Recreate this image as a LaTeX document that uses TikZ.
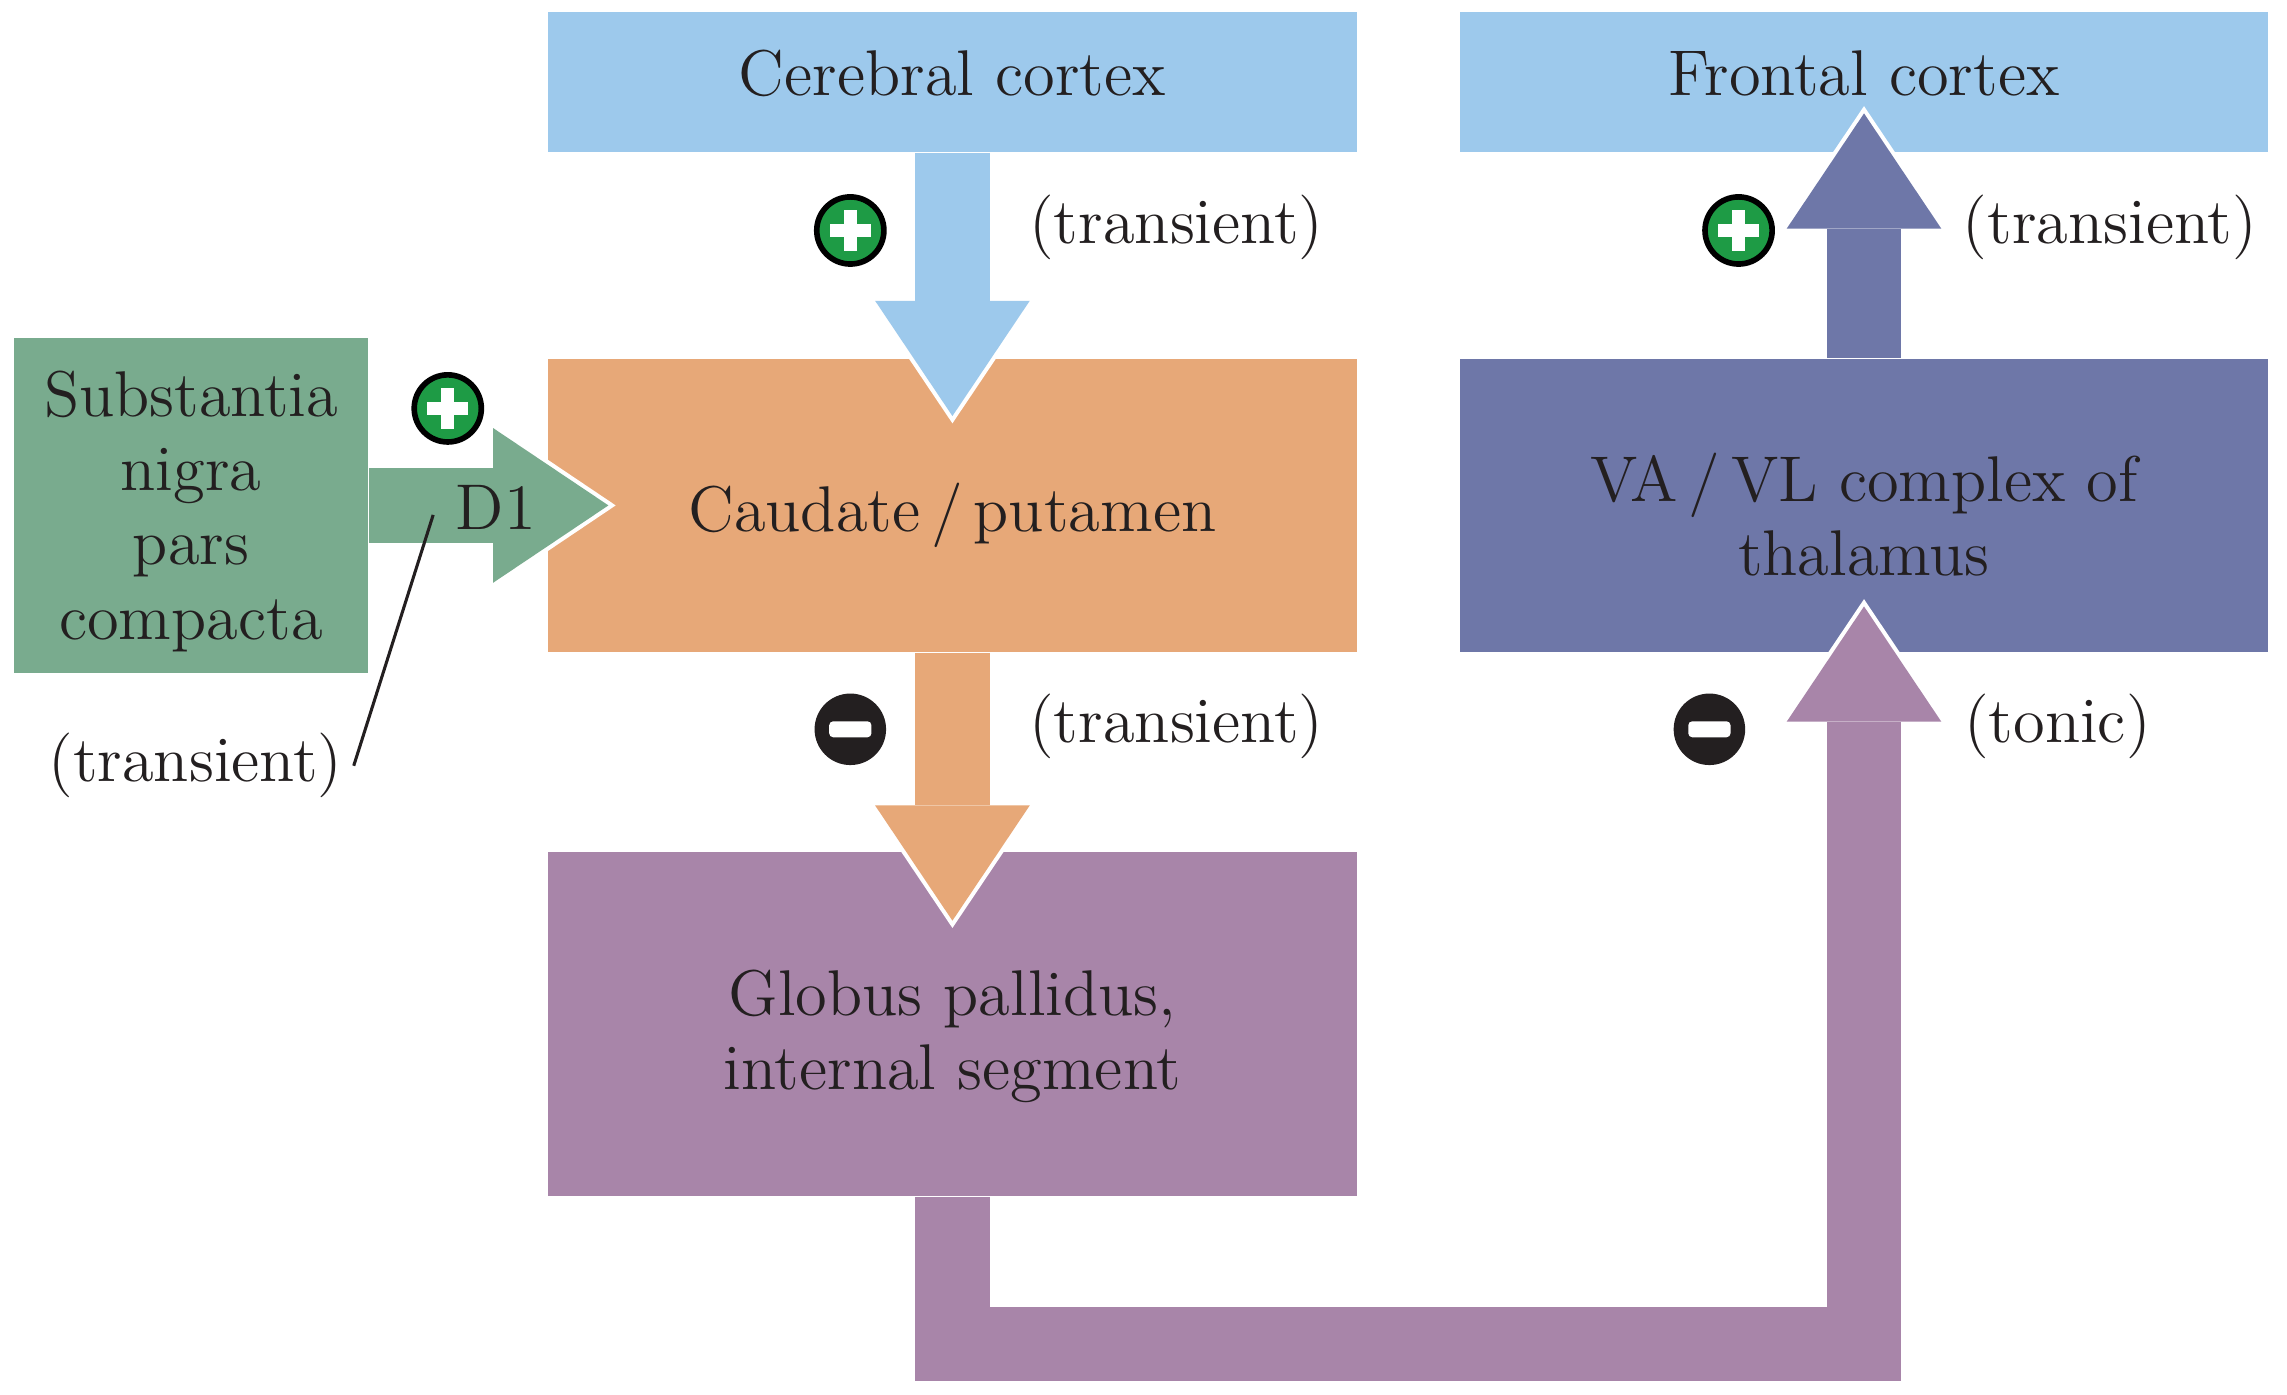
\documentclass[tikz,border=0pt]{standalone}
\usepackage{fontspec}
\usetikzlibrary{arrows.meta,calc}

\definecolor{cortexblue}{HTML}{9DC9EC}
\definecolor{caudorange}{HTML}{E7A878}
\definecolor{nigragreen}{HTML}{79AB8E}
\definecolor{thalslate}{HTML}{6E77A8}
\definecolor{pallidpurple}{HTML}{A885A9}
\definecolor{signgreen}{HTML}{1E9B45}
\definecolor{inkgray}{HTML}{231F20}

\tikzset{
    region/.style={rectangle, inner sep=0pt, align=center, text=inkgray,
        font=\fontsize{12.6}{14.5}\selectfont},
    fat/.style={line width=0.51cm, line join=miter,
        -{Triangle[length=0.79cm, width=1.06cm, line width=0pt]}},
    rim/.style={white, line width=0.51cm, line join=miter, shorten >=-0.05cm,
        -{Triangle[length=0.84cm, width=1.13cm, line width=0pt]}},
    note/.style={inner sep=2pt, text=inkgray, font=\fontsize{12.6}{14.5}\selectfont},
    signplus/.style={circle, draw=black, line width=1.1pt, fill=signgreen,
        minimum size=0.46cm, inner sep=0pt,
        path picture={
            \fill[white] ([xshift=-0.14cm, yshift=-0.045cm]path picture bounding box.center) rectangle ++(0.28cm,0.09cm);
            \fill[white] ([xshift=-0.045cm, yshift=-0.14cm]path picture bounding box.center) rectangle ++(0.09cm,0.28cm);
        }},
    signminus/.style={circle, fill=inkgray, minimum size=0.49cm, inner sep=0pt,
        path picture={
            \fill[white, rounded corners=0.8pt] ([xshift=-0.145cm, yshift=-0.055cm]path picture bounding box.center) rectangle ++(0.29cm,0.11cm);
        }},
}

\begin{document}
\begin{tikzpicture}[x=0.01cm, y=-0.01cm]
    \useasboundingbox (0,0) rectangle (1568,956);

    % Boxes
    \node[region, fill=cortexblue, minimum width=5.54cm, minimum height=0.96cm, text depth=0.12cm] (cc) at (653,56) {Cerebral cortex};
    \node[region, fill=cortexblue, minimum width=5.54cm, minimum height=0.96cm, text depth=0.12cm] (fc) at (1278,56) {Frontal cortex};
    \node[region, fill=caudorange, minimum width=5.54cm, minimum height=2.01cm, text height=0.47cm] (cp) at (653,346.5) {Caudate\,/\,putamen};
    \node[region, fill=thalslate, minimum width=5.54cm, minimum height=2.01cm, text height=0.97cm] (th) at (1278,346.5) {VA\,/\,VL complex of\\thalamus};
    \node[region, fill=pallidpurple, minimum width=5.54cm, minimum height=2.36cm, text height=0.99cm] (gp) at (653,702) {Globus pallidus,\\internal segment};
    \node[region, fill=nigragreen, minimum width=2.43cm, minimum height=2.29cm, text height=1.92cm] (sn) at (131,346.5) {Substantia\\nigra\\pars\\compacta};

    % White rims under the arrow heads
    \draw[rim] (cc.south) -- ($(cp.north)+(0,40)$);
    \draw[rim] (cp.south) -- ($(gp.north)+(0,48)$);
    \draw[rim] (th.north) -- ($(fc.south)+(0,-27)$);
    \draw[rim] (sn.east) -- ($(cp.west)+(42,0)$);
    \draw[rim] (gp.south) -- ++(0,100.5) -| ($(th.south)+(0,-32)$);

    % Arrows
    \draw[fat, cortexblue] (cc.south) -- ($(cp.north)+(0,40)$);
    \draw[fat, caudorange] (cp.south) -- ($(gp.north)+(0,48)$);
    \draw[fat, thalslate] (th.north) -- ($(fc.south)+(0,-27)$);
    \draw[fat, nigragreen] (sn.east) -- ($(cp.west)+(42,0)$);
    \draw[fat, pallidpurple] (gp.south) -- ++(0,100.5) -| ($(th.south)+(0,-32)$);

    % Signs
    \node[signplus] (s1) at (583,158) {};
    \node[signplus] (s2) at (1192,158) {};
    \node[signplus] (s3) at (307,280) {};
    \node[signminus] (s4) at (583,500) {};
    \node[signminus] (s5) at (1172,500) {};

    % Labels
    \node[note, anchor=west] (t1) at (698,156) {(transient)};
    \node[note, anchor=west] (t2) at (1338,156) {(transient)};
    \node[note, anchor=west] (t3) at (698,498) {(transient)};
    \node[note, anchor=west] (t4) at (1339,498) {(tonic)};
    \node[note] (t5) at (134,525) {(transient)};
    \node[note] (d1) at (340,348) {D1};
    \coordinate (d1tail) at (297,353);
    \draw[inkgray, line width=0.6pt] (t5.east) -- (d1tail);
\end{tikzpicture}
\end{document}
